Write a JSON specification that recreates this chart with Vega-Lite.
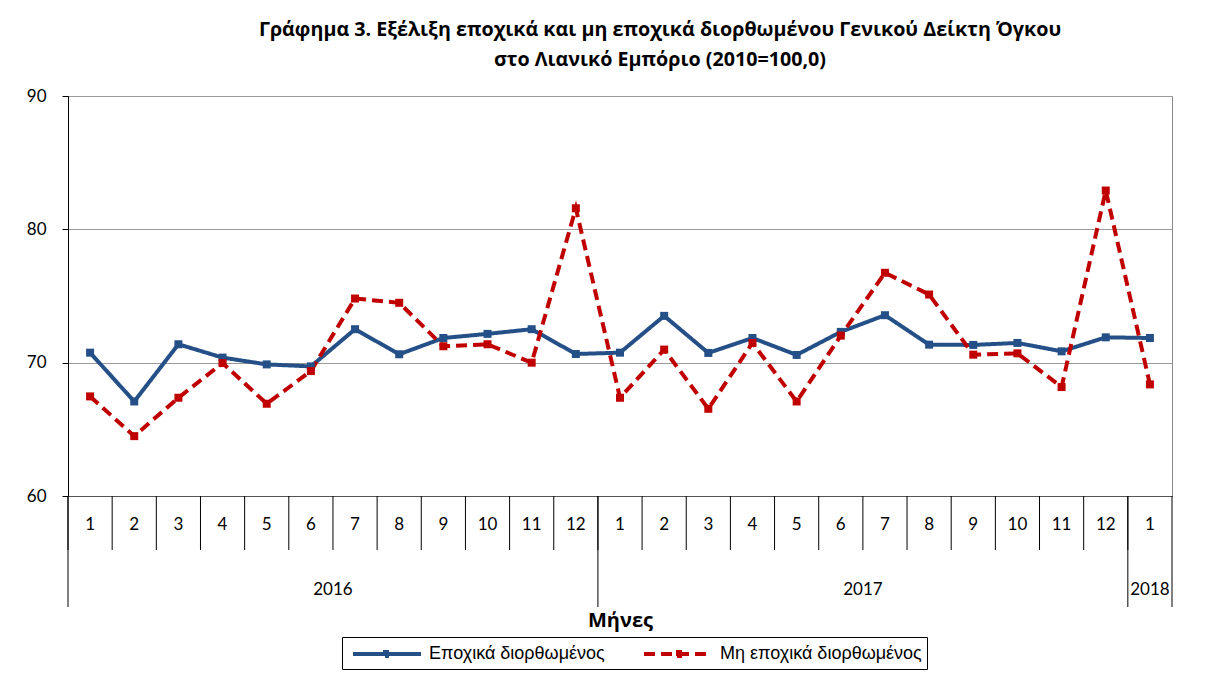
{
  "$schema": "https://vega.github.io/schema/vega-lite/v6.json",
  "width": 1104,
  "height": 400,
  "autosize": {"type": "none"},
  "padding": {"left": 68, "top": 96, "right": 34, "bottom": 177},
  "background": "white",
  "title": {
    "text": ["Γράφημα 3. Εξέλιξη εποχικά και μη εποχικά διορθωμένου Γενικού Δείκτη Όγκου", "στο Λιανικό Εμπόριο (2010=100,0)"],
    "font": "Open Sans",
    "fontSize": 19.7,
    "fontWeight": "bold",
    "color": "black",
    "anchor": "middle",
    "dx": 40,
    "lineHeight": 30,
    "offset": 17
  },
  "datasets": {
    "months": [
      {"period": "2016-01", "month": "1"}, {"period": "2016-02", "month": "2"}, {"period": "2016-03", "month": "3"},
      {"period": "2016-04", "month": "4"}, {"period": "2016-05", "month": "5"}, {"period": "2016-06", "month": "6"},
      {"period": "2016-07", "month": "7"}, {"period": "2016-08", "month": "8"}, {"period": "2016-09", "month": "9"},
      {"period": "2016-10", "month": "10"}, {"period": "2016-11", "month": "11"}, {"period": "2016-12", "month": "12"},
      {"period": "2017-01", "month": "1"}, {"period": "2017-02", "month": "2"}, {"period": "2017-03", "month": "3"},
      {"period": "2017-04", "month": "4"}, {"period": "2017-05", "month": "5"}, {"period": "2017-06", "month": "6"},
      {"period": "2017-07", "month": "7"}, {"period": "2017-08", "month": "8"}, {"period": "2017-09", "month": "9"},
      {"period": "2017-10", "month": "10"}, {"period": "2017-11", "month": "11"}, {"period": "2017-12", "month": "12"},
      {"period": "2018-01", "month": "1"}
    ],
    "yearsFull": [
      {"period": "2016-07", "year": "2016"},
      {"period": "2017-07", "year": "2017"}
    ],
    "yearsPart": [
      {"period": "2018-01", "year": "2018"}
    ],
    "yearStarts": [
      {"period": "2016-01"},
      {"period": "2017-01"},
      {"period": "2018-01"}
    ],
    "yearEnds": [
      {"period": "2018-01"}
    ]
  },
  "data": {"values": [
      {"period": "2016-01", "series": "Εποχικά διορθωμένος", "value": 70.75},
      {"period": "2016-02", "series": "Εποχικά διορθωμένος", "value": 67.09},
      {"period": "2016-03", "series": "Εποχικά διορθωμένος", "value": 71.38},
      {"period": "2016-04", "series": "Εποχικά διορθωμένος", "value": 70.38},
      {"period": "2016-05", "series": "Εποχικά διορθωμένος", "value": 69.87},
      {"period": "2016-06", "series": "Εποχικά διορθωμένος", "value": 69.72},
      {"period": "2016-07", "series": "Εποχικά διορθωμένος", "value": 72.51},
      {"period": "2016-08", "series": "Εποχικά διορθωμένος", "value": 70.63},
      {"period": "2016-09", "series": "Εποχικά διορθωμένος", "value": 71.85},
      {"period": "2016-10", "series": "Εποχικά διορθωμένος", "value": 72.16},
      {"period": "2016-11", "series": "Εποχικά διορθωμένος", "value": 72.51},
      {"period": "2016-12", "series": "Εποχικά διορθωμένος", "value": 70.65},
      {"period": "2017-01", "series": "Εποχικά διορθωμένος", "value": 70.75},
      {"period": "2017-02", "series": "Εποχικά διορθωμένος", "value": 73.51},
      {"period": "2017-03", "series": "Εποχικά διορθωμένος", "value": 70.73},
      {"period": "2017-04", "series": "Εποχικά διορθωμένος", "value": 71.85},
      {"period": "2017-05", "series": "Εποχικά διορθωμένος", "value": 70.58},
      {"period": "2017-06", "series": "Εποχικά διορθωμένος", "value": 72.31},
      {"period": "2017-07", "series": "Εποχικά διορθωμένος", "value": 73.56},
      {"period": "2017-08", "series": "Εποχικά διορθωμένος", "value": 71.35},
      {"period": "2017-09", "series": "Εποχικά διορθωμένος", "value": 71.33},
      {"period": "2017-10", "series": "Εποχικά διορθωμένος", "value": 71.48},
      {"period": "2017-11", "series": "Εποχικά διορθωμένος", "value": 70.85},
      {"period": "2017-12", "series": "Εποχικά διορθωμένος", "value": 71.9},
      {"period": "2018-01", "series": "Εποχικά διορθωμένος", "value": 71.85},
      {"period": "2016-01", "series": "Μη εποχικά διορθωμένος", "value": 67.47},
      {"period": "2016-02", "series": "Μη εποχικά διορθωμένος", "value": 64.49},
      {"period": "2016-03", "series": "Μη εποχικά διορθωμένος", "value": 67.37},
      {"period": "2016-04", "series": "Μη εποχικά διορθωμένος", "value": 69.97},
      {"period": "2016-05", "series": "Μη εποχικά διορθωμένος", "value": 66.92},
      {"period": "2016-06", "series": "Μη εποχικά διορθωμένος", "value": 69.37},
      {"period": "2016-07", "series": "Μη εποχικά διορθωμένος", "value": 74.81},
      {"period": "2016-08", "series": "Μη εποχικά διορθωμένος", "value": 74.49},
      {"period": "2016-09", "series": "Μη εποχικά διορθωμένος", "value": 71.23},
      {"period": "2016-10", "series": "Μη εποχικά διορθωμένος", "value": 71.38},
      {"period": "2016-11", "series": "Μη εποχικά διορθωμένος", "value": 70.0},
      {"period": "2016-12", "series": "Μη εποχικά διορθωμένος", "value": 81.58},
      {"period": "2017-01", "series": "Μη εποχικά διορθωμένος", "value": 67.37},
      {"period": "2017-02", "series": "Μη εποχικά διορθωμένος", "value": 70.98},
      {"period": "2017-03", "series": "Μη εποχικά διορθωμένος", "value": 66.54},
      {"period": "2017-04", "series": "Μη εποχικά διορθωμένος", "value": 71.48},
      {"period": "2017-05", "series": "Μη εποχικά διορθωμένος", "value": 67.09},
      {"period": "2017-06", "series": "Μη εποχικά διορθωμένος", "value": 72.03},
      {"period": "2017-07", "series": "Μη εποχικά διορθωμένος", "value": 76.74},
      {"period": "2017-08", "series": "Μη εποχικά διορθωμένος", "value": 75.11},
      {"period": "2017-09", "series": "Μη εποχικά διορθωμένος", "value": 70.6},
      {"period": "2017-10", "series": "Μη εποχικά διορθωμένος", "value": 70.7},
      {"period": "2017-11", "series": "Μη εποχικά διορθωμένος", "value": 68.17},
      {"period": "2017-12", "series": "Μη εποχικά διορθωμένος", "value": 82.91},
      {"period": "2018-01", "series": "Μη εποχικά διορθωμένος", "value": 68.37}
  ]},
  "layer": [
    {
      "mark": {"type": "line", "strokeWidth": 4},
      "encoding": {
        "x": {
          "field": "period",
          "type": "ordinal",
          "title": "Μήνες",
          "scale": {"paddingInner": 0, "paddingOuter": 0},
          "axis": {
            "labels": false,
            "ticks": false,
            "domainColor": "#555555",
            "titleFont": "Open Sans",
            "titleFontSize": 20,
            "titleFontWeight": "bold",
            "titleColor": "black",
            "titlePadding": 114,
            "grid": false
          }
        },
        "y": {
          "field": "value",
          "type": "quantitative",
          "title": null,
          "scale": {"domain": [60, 90], "zero": false, "nice": false},
          "axis": {
            "values": [60, 70, 80, 90],
            "tickSize": 6,
            "tickColor": "black",
            "domainColor": "black",
            "labelFont": "Lato",
            "labelFontSize": 17,
            "labelColor": "black",
            "labelPadding": 16,
            "grid": true,
            "gridColor": "#9a9a9a"
          }
        },
        "color": {
          "field": "series",
          "type": "nominal",
          "scale": {"domain": ["Εποχικά διορθωμένος", "Μη εποχικά διορθωμένος"], "range": ["#245087", "#C00000"]},
          "legend": {"title": null, "orient": "none", "legendX": 274, "legendY": 541, "direction": "horizontal"}
        },
        "strokeDash": {
          "field": "series",
          "type": "nominal",
          "scale": {"domain": ["Εποχικά διορθωμένος", "Μη εποχικά διορθωμένος"], "range": [[1, 0], [11, 6]]},
          "legend": {"title": null, "orient": "none", "legendX": 274, "legendY": 541, "direction": "horizontal"}
        }
      }
    },
    {
      "mark": {"type": "point", "shape": "square", "filled": true, "size": 64, "opacity": 1},
      "encoding": {
        "x": {"field": "period", "type": "ordinal", "title": "Μήνες"},
        "y": {"field": "value", "type": "quantitative", "title": null},
        "color": {"field": "series", "type": "nominal"}
      }
    },
    {
      "data": {"name": "months"},
      "mark": {"type": "rule", "color": "black", "strokeWidth": 1},
      "encoding": {
        "x": {"field": "period", "type": "ordinal", "bandPosition": 0, "title": "Μήνες"},
        "y": {"datum": 60, "type": "quantitative"},
        "y2": {"datum": 55.95}
      }
    },
    {
      "data": {"name": "months"},
      "mark": {"type": "text", "font": "Lato", "fontSize": 17, "color": "black", "baseline": "middle"},
      "encoding": {
        "x": {"field": "period", "type": "ordinal", "title": "Μήνες"},
        "y": {"datum": 57.85, "type": "quantitative"},
        "text": {"field": "month"}
      }
    },
    {
      "data": {"name": "yearsFull"},
      "mark": {"type": "text", "font": "Lato", "fontSize": 17, "color": "black", "baseline": "middle"},
      "encoding": {
        "x": {"field": "period", "type": "ordinal", "bandPosition": 0, "title": "Μήνες"},
        "y": {"datum": 52.95, "type": "quantitative"},
        "text": {"field": "year"}
      }
    },
    {
      "data": {"name": "yearsPart"},
      "mark": {"type": "text", "font": "Lato", "fontSize": 17, "color": "black", "baseline": "middle"},
      "encoding": {
        "x": {"field": "period", "type": "ordinal", "title": "Μήνες"},
        "y": {"datum": 52.95, "type": "quantitative"},
        "text": {"field": "year"}
      }
    },
    {
      "data": {"name": "yearStarts"},
      "mark": {"type": "rule", "color": "black", "strokeWidth": 1},
      "encoding": {
        "x": {"field": "period", "type": "ordinal", "bandPosition": 0, "title": "Μήνες"},
        "y": {"datum": 60, "type": "quantitative"},
        "y2": {"datum": 51.675}
      }
    },
    {
      "data": {"name": "yearEnds"},
      "mark": {"type": "rule", "color": "black", "strokeWidth": 1},
      "encoding": {
        "x": {"field": "period", "type": "ordinal", "bandPosition": 1, "title": "Μήνες"},
        "y": {"datum": 60, "type": "quantitative"},
        "y2": {"datum": 51.675}
      }
    }
  ],
  "config": {
    "view": {"stroke": "#8c8c8c"},
    "legend": {
      "strokeColor": "black",
      "padding": 5,
      "symbolType": "M-0.6,0H6.2M2.6,-0.2H3V0.2H2.6Z",
      "symbolSize": 400,
      "symbolStrokeWidth": 4,
      "labelFont": "Liberation Sans",
      "labelFontSize": 18,
      "labelLimit": 400,
      "labelColor": "black",
      "labelOffset": 58,
      "columnPadding": 31
    }
  }
}
